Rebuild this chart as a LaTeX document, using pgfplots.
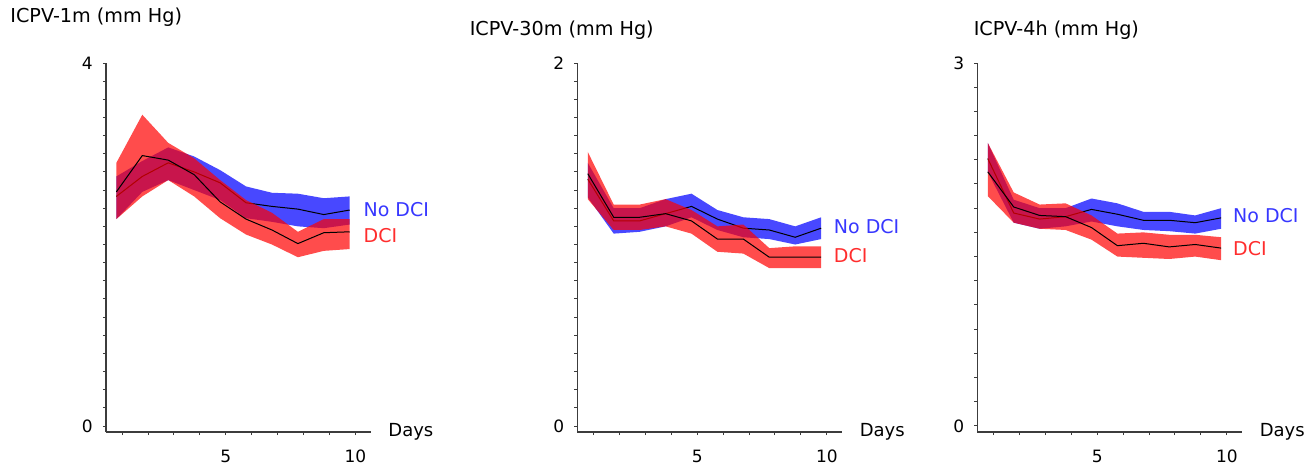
\documentclass[border=0pt]{standalone}
\usepackage{pgfplots}
\usepackage{pgfplotstable}
\pgfplotsset{compat=1.18}
\usepgfplotslibrary{fillbetween}
\usepackage{fontspec}
\setmainfont{DejaVu Sans}

\definecolor{nodci}{RGB}{72,72,255}
\definecolor{dcifill}{RGB}{255,0,0}
\definecolor{nodcitxt}{RGB}{55,55,255}
\definecolor{dcitxt}{RGB}{255,45,45}
\definecolor{axgray}{RGB}{60,60,60}

\tikzset{fill between/on layer=main}

% day, No DCI (lo mean hi), DCI (lo mean hi)
\pgfplotstableread{
x    nlo  nmean nhi   dlo  dmean dhi
0.78 2.28 2.53  2.75  2.28 2.58  2.90
1.78 2.58 2.75  2.92  2.53 2.98  3.43
2.78 2.71 2.90  3.07  2.71 2.93  3.12
3.78 2.60 2.80  2.97  2.53 2.77  2.95
4.78 2.49 2.68  2.82  2.29 2.47  2.71
5.78 2.29 2.46  2.64  2.11 2.28  2.49
6.78 2.25 2.42  2.57  2.00 2.16  2.35
7.78 2.20 2.39  2.56  1.86 2.01  2.14
8.78 2.18 2.33  2.51  1.93 2.13  2.28
9.78 2.22 2.38  2.53  1.95 2.14  2.28
}\oneminute

\pgfplotstableread{
x    nlo  nmean nhi   dlo  dmean dhi
0.78 1.26 1.36  1.45  1.25 1.39  1.51
1.78 1.06 1.13  1.20  1.08 1.15  1.22
2.78 1.07 1.13  1.20  1.08 1.15  1.22
3.78 1.10 1.17  1.25  1.10 1.17  1.25
4.78 1.15 1.21  1.28  1.06 1.13  1.19
5.78 1.08 1.14  1.19  0.96 1.03  1.10
6.78 1.04 1.09  1.15  0.95 1.03  1.11
7.78 1.03 1.08  1.14  0.87 0.93  0.98
8.78 1.00 1.04  1.10  0.87 0.93  0.99
9.78 1.03 1.09  1.15  0.87 0.93  0.99
}\thirtyminutes

\pgfplotstableread{
x    nlo  nmean nhi   dlo  dmean dhi
0.78 2.10 2.21  2.34  1.90 2.10  2.34
1.78 1.68 1.76  1.87  1.68 1.81  1.93
2.78 1.63 1.71  1.80  1.63 1.74  1.83
3.78 1.65 1.73  1.80  1.62 1.73  1.84
4.78 1.69 1.79  1.88  1.54 1.64  1.74
5.78 1.65 1.75  1.84  1.40 1.49  1.59
6.78 1.62 1.70  1.77  1.39 1.51  1.60
7.78 1.61 1.70  1.77  1.38 1.48  1.58
8.78 1.59 1.68  1.74  1.40 1.50  1.58
9.78 1.63 1.72  1.80  1.37 1.47  1.56
}\fourhours

\pgfplotsset{
  icpv/.style={
    scale only axis, width=132.5pt, height=184.5pt,
    xmin=0.38, xmax=10.6,
    axis lines=left,
    axis line style={-, axgray, line width=0.6pt},
    tick style={axgray, line width=0.5pt},
    tick align=outside,
    major tick length=1.6pt, minor tick length=1.6pt,
    xtick={1,...,10}, xticklabels={,,,,5,,,,,10},
    xticklabel style={yshift=-4pt},
    yticklabel style={xshift=-1.5pt},
    tick label style={font=\fontsize{8.5}{10}\selectfont},
    /pgf/number format/assume math mode=true,
    clip=false,
  },
  band/.style={draw=none, forget plot},
}

% one panel: table, name prefix
\newcommand{\bands}[2]{%
  \addplot[band, name path=#2nhi] table[x=x, y=nhi]{#1};
  \addplot[band, name path=#2nlo] table[x=x, y=nlo]{#1};
  \addplot[fill=nodci, draw=none] fill between[of=#2nhi and #2nlo];
  \addplot[black, line width=0.5pt] table[x=x, y=nmean]{#1};
  \addplot[band, name path=#2dhi] table[x=x, y=dhi]{#1};
  \addplot[band, name path=#2dlo] table[x=x, y=dlo]{#1};
  \addplot[fill=dcifill, fill opacity=0.7, draw=none] fill between[of=#2dhi and #2dlo];
  \addplot[black, line width=0.5pt] table[x=x, y=dmean]{#1};
}

\begin{document}
\begin{tikzpicture}
\tikzset{lab/.style={anchor=west, inner sep=0pt, font=\fontsize{9.5}{11}\selectfont},
  ttl/.style={anchor=west, inner sep=0pt, font=\fontsize{9.6}{11}\selectfont}}

\node[ttl] at (5pt,-8.5pt) {ICPV-1m (mm Hg)};
\node[ttl] at (234.7pt,-15pt) {ICPV-30m (mm Hg)};
\node[ttl] at (486.7pt,-15pt) {ICPV-4h (mm Hg)};

\begin{axis}[icpv, at={(53pt,-216pt)}, anchor=south west,
  ymin=-0.066, ymax=4, ytick={0,4}, yticklabels={0,4},
  minor ytick={0.2,0.4,...,3.81}]
  \bands{\oneminute}{a}
  \node[lab, text=nodcitxt] at (axis cs:10.3,2.39) {No DCI};
  \node[lab, text=dcitxt] at (axis cs:10.3,2.10) {DCI};
  \node[anchor=base west, inner sep=0pt, font=\fontsize{9}{11}\selectfont]
    at ([xshift=8.5pt, yshift=-2pt]rel axis cs:1,0) {Days};
\end{axis}

\begin{axis}[icpv, at={(288.7pt,-216pt)}, anchor=south west,
  ymin=-0.033, ymax=2, ytick={0,2}, yticklabels={0,2},
  minor ytick={0.1,0.2,...,1.91}]
  \bands{\thirtyminutes}{b}
  \node[lab, text=nodcitxt] at (axis cs:10.26,1.10) {No DCI};
  \node[lab, text=dcitxt] at (axis cs:10.26,0.94) {DCI};
  \node[anchor=base west, inner sep=0pt, font=\fontsize{9}{11}\selectfont]
    at ([xshift=8.5pt, yshift=-2pt]rel axis cs:1,0) {Days};
\end{axis}

\begin{axis}[icpv, at={(488.7pt,-216pt)}, anchor=south west,
  ymin=-0.05, ymax=3, ytick={0,3}, yticklabels={0,3},
  minor ytick={0.2,0.4,...,2.81}]
  \bands{\fourhours}{c}
  \node[lab, text=nodcitxt] at (axis cs:10.23,1.74) {No DCI};
  \node[lab, text=dcitxt] at (axis cs:10.23,1.47) {DCI};
  \node[anchor=base west, inner sep=0pt, font=\fontsize{9}{11}\selectfont]
    at ([xshift=8.5pt, yshift=-2pt]rel axis cs:1,0) {Days};
\end{axis}
\pgfresetboundingbox
\path[use as bounding box] (0,0) rectangle (656pt,-233.5pt);
\end{tikzpicture}
\end{document}
